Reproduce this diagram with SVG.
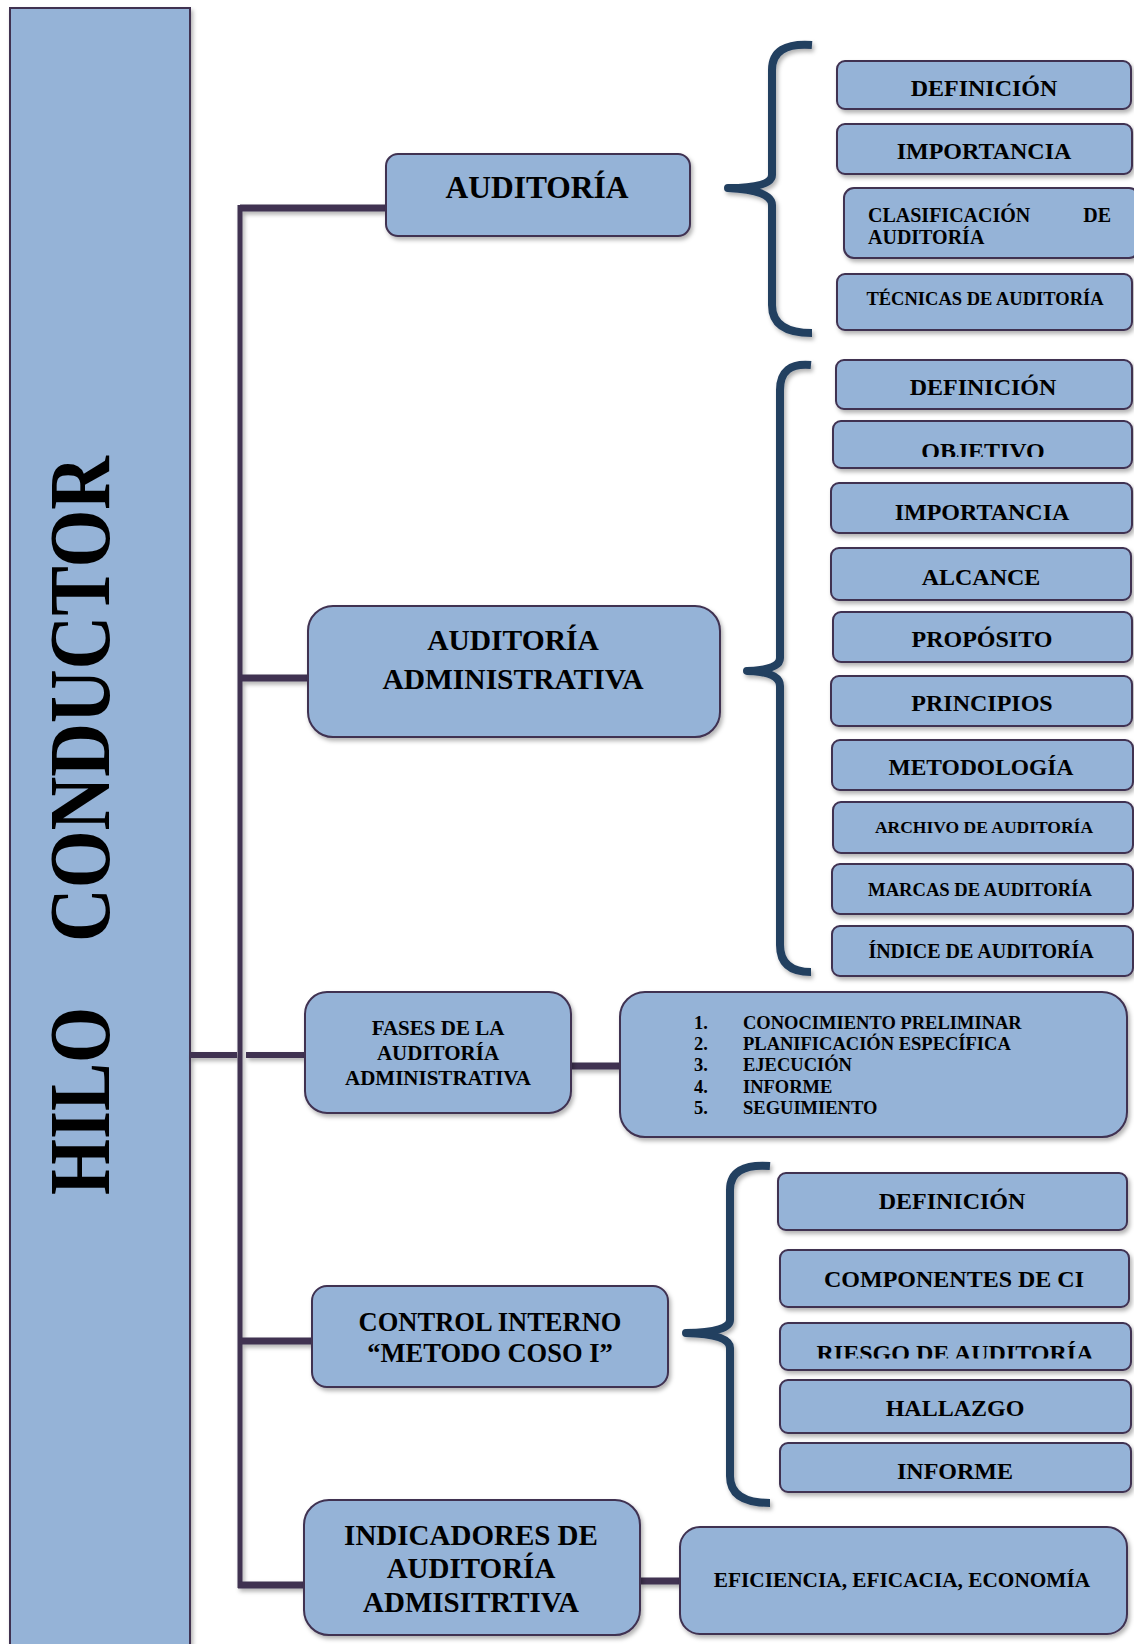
<svg xmlns="http://www.w3.org/2000/svg" width="1134" height="1644" viewBox="0 0 1134 1644">
<defs>
<filter id="sh" x="-10%" y="-10%" width="130%" height="140%">
<feDropShadow dx="2" dy="3" stdDeviation="2" flood-color="#000" flood-opacity="0.3"/>
</filter>
<clipPath id="clipObj"><rect x="833" y="421" width="300" height="36"/></clipPath>
<clipPath id="clipRie"><rect x="780" y="1323" width="352" height="35.5"/></clipPath>
</defs>
<style>
.box{fill:#95B3D7;stroke:#3F3151;stroke-width:2;filter:url(#sh)}
.t{font-family:"Liberation Serif","Times New Roman",serif;font-weight:bold;fill:#000;text-anchor:middle}
.tl{font-family:"Liberation Serif","Times New Roman",serif;font-weight:bold;fill:#000}
.con{stroke:#3F3151;fill:none;stroke-linecap:butt}
.brace{stroke:#243F60;stroke-width:8;fill:none;stroke-linejoin:round;filter:url(#sh)}
</style>
<rect width="1134" height="1644" fill="#fff"/>

<g id="panel">
<rect x="10" y="8" width="180" height="1660" fill="#95B3D7" stroke="#3F3151" stroke-width="2" filter="url(#sh)"/>
<text class="tl" font-size="72" textLength="188" lengthAdjust="spacingAndGlyphs" transform="translate(109,1195) rotate(-90) scale(1,1.2)">HILO</text>
<text class="tl" font-size="72" textLength="486" lengthAdjust="spacingAndGlyphs" transform="translate(109,942) rotate(-90) scale(1,1.2)">CONDUCTOR</text>
</g>

<g id="connectors" filter="url(#sh)">
<line class="con" x1="240" y1="205" x2="240" y2="1588" stroke-width="5"/>
<line class="con" x1="240" y1="208" x2="385" y2="208" stroke-width="7"/>
<line class="con" x1="240" y1="678" x2="307" y2="678" stroke-width="7"/>
<line class="con" x1="190" y1="1055" x2="237" y2="1055" stroke-width="6"/>
<line class="con" x1="246" y1="1055" x2="304" y2="1055" stroke-width="6"/>
<line class="con" x1="571" y1="1066" x2="620" y2="1066" stroke-width="7"/>
<line class="con" x1="240" y1="1341" x2="312" y2="1341" stroke-width="7"/>
<line class="con" x1="238" y1="1585" x2="304" y2="1585" stroke-width="7"/>
<line class="con" x1="640" y1="1581" x2="680" y2="1581" stroke-width="7"/>
</g>

<g id="braces">
<path class="brace" d="M812,45 Q772,42 772,70 L772,175 Q772,188 728,188 Q772,190 772,205 L772,305 Q772,333 812,333"/>
<path class="brace" d="M811,365 Q780,362 780,390 L780,658 Q780,670 747,671 Q780,672 780,686 L780,945 Q780,972 811,972"/>
<path class="brace" d="M770,1166 Q730,1163 730,1190 L730,1320 Q730,1332 686,1333 Q730,1334 730,1348 L730,1476 Q730,1503 770,1503"/>
</g>

<g id="n-auditoria">
<rect class="box" x="386" y="154" width="304" height="82" rx="12"/>
<text class="t" x="537" y="198" font-size="31.5">AUDITORÍA</text>
</g>
<g id="a-definicion">
<rect class="box" x="837" y="61" width="294" height="48" rx="8"/>
<text class="t" x="984" y="96" font-size="24">DEFINICIÓN</text>
</g>
<g id="a-importancia">
<rect class="box" x="837" y="124" width="295" height="50" rx="8"/>
<text class="t" x="984" y="159" font-size="24">IMPORTANCIA</text>
</g>
<g id="a-clasificacion">
<rect class="box" x="844" y="188" width="295" height="70" rx="10"/>
<text class="tl" x="868" y="222" font-size="20">CLASIFICACIÓN</text>
<text class="tl" x="1111" y="222" font-size="20" text-anchor="end">DE</text>
<text class="tl" x="868" y="244" font-size="20">AUDITORÍA</text>
</g>
<g id="a-tecnicas">
<rect class="box" x="837" y="274" width="295" height="56" rx="8"/>
<text class="t" x="985" y="305" font-size="18.5">TÉCNICAS DE AUDITORÍA</text>
</g>

<g id="n-aud-admin">
<rect class="box" x="308" y="606" width="412" height="131" rx="25"/>
<text class="t" x="513" y="650" font-size="29.5">AUDITORÍA</text>
<text class="t" x="513" y="689" font-size="29.5">ADMINISTRATIVA</text>
</g>
<g id="b-definicion">
<rect class="box" x="836" y="360" width="296" height="49" rx="8"/>
<text class="t" x="983" y="395" font-size="24">DEFINICIÓN</text>
</g>
<g id="b-objetivo">
<rect class="box" x="833" y="421" width="299" height="47" rx="8"/>
<text class="t" x="983" y="459" font-size="24" clip-path="url(#clipObj)">OBJETIVO</text>
</g>
<g id="b-importancia">
<rect class="box" x="831" y="483" width="301" height="50" rx="8"/>
<text class="t" x="982" y="520" font-size="24">IMPORTANCIA</text>
</g>
<g id="b-alcance">
<rect class="box" x="831" y="548" width="300" height="52" rx="8"/>
<text class="t" x="981" y="585" font-size="24">ALCANCE</text>
</g>
<g id="b-proposito">
<rect class="box" x="833" y="612" width="299" height="50" rx="8"/>
<text class="t" x="982" y="647" font-size="24">PROPÓSITO</text>
</g>
<g id="b-principios">
<rect class="box" x="831" y="676" width="301" height="50" rx="8"/>
<text class="t" x="982" y="711" font-size="24">PRINCIPIOS</text>
</g>
<g id="b-metodologia">
<rect class="box" x="832" y="740" width="301" height="50" rx="8"/>
<text class="t" x="981" y="775" font-size="23.5">METODOLOGÍA</text>
</g>
<g id="b-archivo">
<rect class="box" x="833" y="802" width="300" height="51" rx="8"/>
<text class="t" x="984" y="833" font-size="17.5">ARCHIVO DE AUDITORÍA</text>
</g>
<g id="b-marcas">
<rect class="box" x="832" y="864" width="301" height="50" rx="8"/>
<text class="t" x="980" y="896" font-size="18.6">MARCAS DE AUDITORÍA</text>
</g>
<g id="b-indice">
<rect class="box" x="832" y="926" width="301" height="50" rx="8"/>
<text class="t" x="981" y="958" font-size="20">ÍNDICE DE AUDITORÍA</text>
</g>

<g id="n-fases">
<rect class="box" x="305" y="992" width="266" height="121" rx="22"/>
<text class="t" x="438" y="1035" font-size="21">FASES DE LA</text>
<text class="t" x="438" y="1060" font-size="21">AUDITORÍA</text>
<text class="t" x="438" y="1085" font-size="21">ADMINISTRATIVA</text>
</g>
<g id="n-fases-lista">
<rect class="box" x="620" y="992" width="507" height="145" rx="25"/>
<text class="tl" x="694" y="1029" font-size="18.5">1.</text>
<text class="tl" x="743" y="1029" font-size="18.5">CONOCIMIENTO PRELIMINAR</text>
<text class="tl" x="694" y="1050" font-size="18.5">2.</text>
<text class="tl" x="743" y="1050" font-size="18.5">PLANIFICACIÓN ESPECÍFICA</text>
<text class="tl" x="694" y="1071" font-size="18.5">3.</text>
<text class="tl" x="743" y="1071" font-size="18.5">EJECUCIÓN</text>
<text class="tl" x="694" y="1093" font-size="18.5">4.</text>
<text class="tl" x="743" y="1093" font-size="18.5">INFORME</text>
<text class="tl" x="694" y="1114" font-size="18.5">5.</text>
<text class="tl" x="743" y="1114" font-size="18.5">SEGUIMIENTO</text>
</g>

<g id="n-control">
<rect class="box" x="312" y="1286" width="356" height="101" rx="15"/>
<text class="t" x="490" y="1331" font-size="26.5">CONTROL INTERNO</text>
<text class="t" x="490" y="1362" font-size="26.5">“METODO COSO I”</text>
</g>
<g id="c-definicion">
<rect class="box" x="778" y="1173" width="349" height="57" rx="8"/>
<text class="t" x="952" y="1209" font-size="24">DEFINICIÓN</text>
</g>
<g id="c-componentes">
<rect class="box" x="780" y="1250" width="349" height="57" rx="8"/>
<text class="t" x="954" y="1287" font-size="24">COMPONENTES DE CI</text>
</g>
<g id="c-riesgo">
<rect class="box" x="780" y="1323" width="351" height="47" rx="8"/>
<text class="t" x="955" y="1361" font-size="24" clip-path="url(#clipRie)">RIESGO DE AUDITORÍA</text>
</g>
<g id="c-hallazgo">
<rect class="box" x="780" y="1380" width="351" height="53" rx="8"/>
<text class="t" x="955" y="1416" font-size="24">HALLAZGO</text>
</g>
<g id="c-informe">
<rect class="box" x="780" y="1443" width="351" height="49" rx="8"/>
<text class="t" x="955" y="1479" font-size="24">INFORME</text>
</g>

<g id="n-indicadores">
<rect class="box" x="304" y="1500" width="336" height="135" rx="25"/>
<text class="t" x="471" y="1545" font-size="29">INDICADORES DE</text>
<text class="t" x="471" y="1578" font-size="29">AUDITORÍA</text>
<text class="t" x="471" y="1612" font-size="29">ADMISITRTIVA</text>
</g>
<g id="n-eficiencia">
<rect class="box" x="680" y="1527" width="447" height="107" rx="20"/>
<text class="t" x="902" y="1587" font-size="21.3">EFICIENCIA, EFICACIA, ECONOMÍA</text>
</g>
</svg>
